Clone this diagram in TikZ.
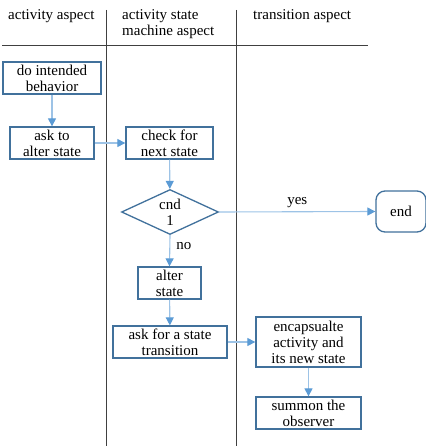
\documentclass[tikz,border=0pt]{standalone}
\usepackage{fontspec}
\setmainfont{Liberation Serif}
\usetikzlibrary{shapes.geometric,arrows.meta}
\definecolor{boxblue}{HTML}{41719C}
\definecolor{linblue}{HTML}{9DC3E6}
\definecolor{tipblue}{HTML}{5B9BD5}
\definecolor{lanegray}{HTML}{404040}
\begin{document}
\begin{tikzpicture}[x=1pt,y=-1pt,
  every node/.style={font=\fontsize{15}{16}\selectfont, inner sep=0pt, align=center},
  stepbox/.style={draw=boxblue, line width=1.3pt, fill=white, minimum height=32pt},
  decbox/.style={diamond, draw=boxblue, line width=1.3pt, fill=white, minimum width=97pt, minimum height=45pt, aspect=2.15},
  endbox/.style={draw=boxblue, line width=1.3pt, fill=white, rounded corners=9pt, minimum width=50pt, minimum height=41pt},
  flow/.style={draw=linblue, line width=1.1pt, -{Triangle[length=8pt,width=8pt,fill=tipblue,color=tipblue]}},
  lane/.style={draw=lanegray, line width=0.8pt},
  hdr/.style={anchor=north west, align=left}
]
\useasboundingbox (0,0) rectangle (425,446);
% header
\node[hdr] (h1) at (8,9) {activity aspect};
\node[hdr] (h2) at (122,9) {activity state\\machine aspect};
\node[hdr] (h3) at (253,9) {transition aspect};
\coordinate (hl) at (2,45);
\coordinate (hr) at (368,45);
\draw[lane] (hl) -- (hr);
\coordinate (v1t) at (106,10);
\coordinate (v1b) at (106,446);
\coordinate (v2t) at (236,10);
\coordinate (v2b) at (236,446);
\draw[lane] (v1t) -- (v1b);
\draw[lane] (v2t) -- (v2b);
% nodes
\node[stepbox, minimum width=98pt] (do) at (52,78) {do intended\\behavior};
\node[stepbox, minimum width=84pt] (ask) at (52,143) {ask to\\alter state};
\node[stepbox, minimum width=87pt] (check) at (169.5,143) {check for\\next state};
\node[decbox] (cnd) at (170,212) {cnd\\1};
\node[endbox] (end) at (401,211.5) {end};
\node[stepbox, minimum width=63pt] (alter) at (169.5,283) {alter\\state};
\node[stepbox, minimum width=114pt] (askfor) at (170,342) {ask for a state\\transition};
\node[stepbox, minimum width=105pt, minimum height=50pt] (enc) at (308.5,342) {encapsualte\\activity and\\its new state};
\node[stepbox, minimum width=105pt] (summon) at (308.5,413) {summon the\\observer};
% connectors
\draw[flow] (do) -- (ask);
\draw[flow] (ask) -- (check);
\draw[flow] (check) -- (cnd);
\draw[flow] (cnd.east) -- node[above=3pt] (yes) {yes} (end.west);
\draw[flow] (cnd.south) -- node[right=6pt, pos=0.35] (no) {no} (alter.north);
\draw[flow] (alter) -- (askfor);
\draw[flow] (askfor) -- (enc);
\draw[flow] (enc) -- (summon);
\end{tikzpicture}
\end{document}
